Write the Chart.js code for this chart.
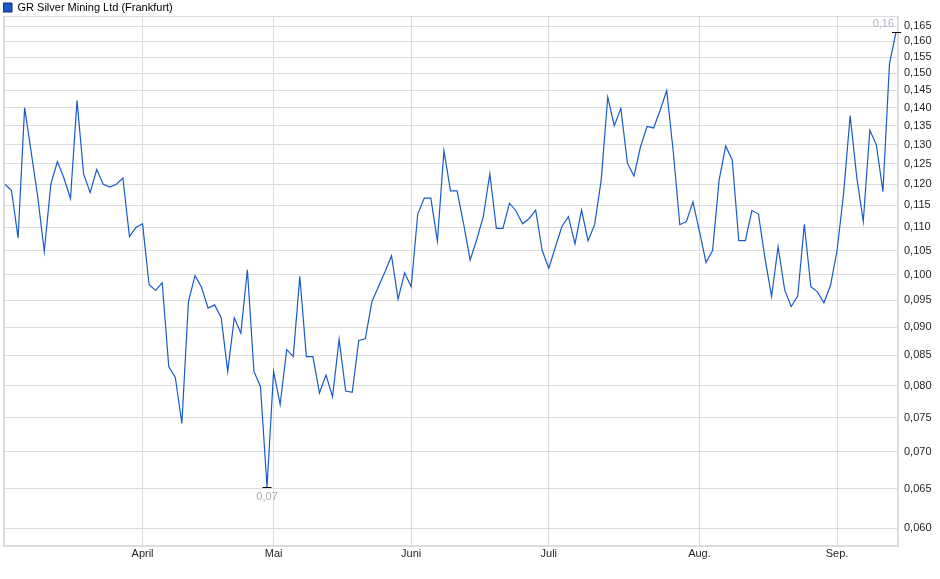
<!DOCTYPE html>
<html>
<head>
<meta charset="utf-8">
<title>GR Silver Mining Ltd (Frankfurt)</title>
<script src="https://cdn.jsdelivr.net/npm/chart.js@4.4.1/dist/chart.umd.min.js"></script>
<style>
  html, body { margin: 0; padding: 0; background: #fff; }
  #wrap { width: 940px; height: 579px; }
</style>
</head>
<body>
<div id="wrap"><canvas id="priceChart"></canvas></div>
<script>
// Kurse je Handelstag (Frankfurt), Anfang März bis Mitte September
const prices = [
  0.1200, 0.1185, 0.1077, 0.1400, 0.1280, 0.1170, 0.1048, 0.1200, 0.1256, 0.1215,
  0.1166, 0.1420, 0.1225, 0.1180, 0.1236, 0.1200, 0.1193, 0.1200, 0.1215, 0.1080,
  0.1100, 0.1108, 0.0980, 0.0969, 0.0984, 0.0831, 0.0813, 0.0741, 0.0947, 0.0998,
  0.0975, 0.0935, 0.0941, 0.0917, 0.0823, 0.0917, 0.0889, 0.1010, 0.0823, 0.0798,
  0.0652, 0.0823, 0.0770, 0.0860, 0.0848, 0.0997, 0.0848, 0.0848, 0.0788, 0.0817,
  0.0782, 0.0878, 0.0791, 0.0789, 0.0876, 0.0879, 0.0947, 0.0976, 0.1006, 0.1039,
  0.0952, 0.1004, 0.0976, 0.1130, 0.1167, 0.1167, 0.1070, 0.1284, 0.1184, 0.1184,
  0.1108, 0.1030, 0.1073, 0.1124, 0.1225, 0.1098, 0.1098, 0.1155, 0.1137, 0.1108,
  0.1120, 0.1139, 0.1050, 0.1013, 0.1057, 0.1102, 0.1124, 0.1064, 0.1139, 0.1071,
  0.1106, 0.1210, 0.1430, 0.1350, 0.1398, 0.1252, 0.1220, 0.1294, 0.1348, 0.1344,
  0.1393, 0.1449, 0.1281, 0.1106, 0.1113, 0.1158, 0.1091, 0.1025, 0.1050, 0.1210,
  0.1296, 0.1260, 0.1071, 0.1071, 0.1138, 0.1130, 0.1034, 0.0957, 0.1058, 0.0970,
  0.0938, 0.0958, 0.1107, 0.0976, 0.0966, 0.0945, 0.0979, 0.1050, 0.1178, 0.1378,
  0.1218, 0.1113, 0.1338, 0.1299, 0.1182, 0.1530, 0.1630
];

// Monatsanfänge (Index des ersten Handelstags) und Beschriftung
const monthStarts = [0, 21, 41, 62, 83, 106, 127];
const monthNames  = ['', 'April', 'Mai', 'Juni', 'Juli', 'Aug.', 'Sep.'];

const yTicks = [
  0.060, 0.065, 0.070, 0.075, 0.080, 0.085, 0.090, 0.095, 0.100, 0.105, 0.110,
  0.115, 0.120, 0.125, 0.130, 0.135, 0.140, 0.145, 0.150, 0.155, 0.160, 0.165
];

const seriesName = 'GR Silver Mining Ltd (Frankfurt)';
const lineColor  = '#1a5ac8';
const gridColor  = '#dcdcdc';
const textColor  = '#262626';

const fmt = (v, d) => v.toFixed(d).replace('.', ',');

Chart.defaults.font.family = '"Liberation Sans", Arial, sans-serif';
Chart.defaults.font.size = 11;

// Legende etwas näher an den Chart rücken
const legendFit = {
  id: 'legendFit',
  beforeInit(chart) {
    const fit = chart.legend.fit;
    chart.legend.fit = function () {
      fit.call(this);
      this.height -= 7;
    };
  }
};

// Rahmen um die Zeichenfläche
const plotFrame = {
  id: 'plotFrame',
  beforeDatasetsDraw(chart) {
    const { ctx, chartArea: a } = chart;
    ctx.save();
    ctx.strokeStyle = gridColor;
    ctx.lineWidth = 1;
    ctx.strokeRect(Math.round(a.left) + 0.5, Math.round(a.top) + 0.5,
                   Math.round(a.right - a.left) - 1, Math.round(a.bottom - a.top) - 1);
    ctx.restore();
  }
};

// Hoch / Tief markieren
const extremaMarker = {
  id: 'extremaMarker',
  afterDatasetsDraw(chart) {
    const { ctx, scales: { x, y } } = chart;
    const pts = chart.data.datasets[0].data;
    let lo = 0, hi = 0;
    pts.forEach((p, i) => {
      if (p.y < pts[lo].y) lo = i;
      if (p.y > pts[hi].y) hi = i;
    });
    ctx.save();
    ctx.strokeStyle = '#000';
    ctx.lineWidth = 1;
    ctx.font = '11px "Liberation Sans", Arial, sans-serif';

    const lx = x.getPixelForValue(pts[lo].x);
    const ly = Math.round(y.getPixelForValue(pts[lo].y)) + 0.5;
    ctx.beginPath();
    ctx.moveTo(lx - 4.5, ly);
    ctx.lineTo(lx + 4.5, ly);
    ctx.stroke();
    ctx.fillStyle = '#a8a8a8';
    ctx.textAlign = 'center';
    ctx.textBaseline = 'top';
    ctx.fillText(fmt(pts[lo].y, 2), lx, ly + 4);

    const hx = x.getPixelForValue(pts[hi].x);
    const hy = Math.round(y.getPixelForValue(pts[hi].y)) + 0.5;
    ctx.beginPath();
    ctx.moveTo(hx - 4, hy);
    ctx.lineTo(hx + 5, hy);
    ctx.stroke();
    ctx.fillStyle = '#aab4c6';
    ctx.textAlign = 'right';
    ctx.textBaseline = 'bottom';
    ctx.fillText(fmt(pts[hi].y, 2), hx - 2, hy - 3);
    ctx.restore();
  }
};

const ctx = document.getElementById('priceChart').getContext('2d');

new Chart(ctx, {
  type: 'line',
  data: {
    datasets: [{
      label: seriesName,
      data: prices.map((v, i) => ({ x: i, y: v })),
      borderColor: lineColor,
      backgroundColor: lineColor,
      borderWidth: 1.2,
      pointRadius: 0,
      tension: 0,
      fill: false
    }]
  },
  options: {
    responsive: true,
    maintainAspectRatio: false,
    animation: false,
    layout: { padding: { left: 3, top: 2, right: 0, bottom: 0 } },
    plugins: {
      legend: {
        position: 'top',
        align: 'start',
        labels: {
          boxWidth: 9,
          boxHeight: 9,
          padding: 0,
          color: textColor,
          font: { size: 11 },
          generateLabels: (chart) => chart.data.datasets.map((ds, i) => ({
            text: ds.label,
            fillStyle: ds.borderColor,
            strokeStyle: '#0b2a66',
            lineWidth: 1,
            datasetIndex: i
          }))
        }
      },
      tooltip: { enabled: false }
    },
    scales: {
      x: {
        type: 'linear',
        min: -0.3,
        max: prices.length - 1 + 0.3,
        afterBuildTicks: (s) => { s.ticks = monthStarts.map(v => ({ value: v })); },
        afterFit: (s) => { s.height = 33; },
        ticks: {
          autoSkip: false,
          maxRotation: 0,
          padding: 1,
          color: textColor,
          callback: (v, i) => monthNames[i]
        },
        grid: { color: gridColor, drawTicks: false },
        border: { color: gridColor }
      },
      y: {
        type: 'logarithmic',
        position: 'right',
        min: 0.0579,
        max: 0.1684,
        afterBuildTicks: (s) => { s.ticks = yTicks.map(v => ({ value: v })); },
        afterFit: (s) => { s.width = 42; },
        ticks: {
          autoSkip: false,
          padding: 6,
          color: textColor,
          callback: (v) => fmt(v, 3)
        },
        grid: { color: gridColor, drawTicks: false },
        border: { color: gridColor }
      }
    }
  },
  plugins: [legendFit, plotFrame, extremaMarker]
});
</script>
</body>
</html>
